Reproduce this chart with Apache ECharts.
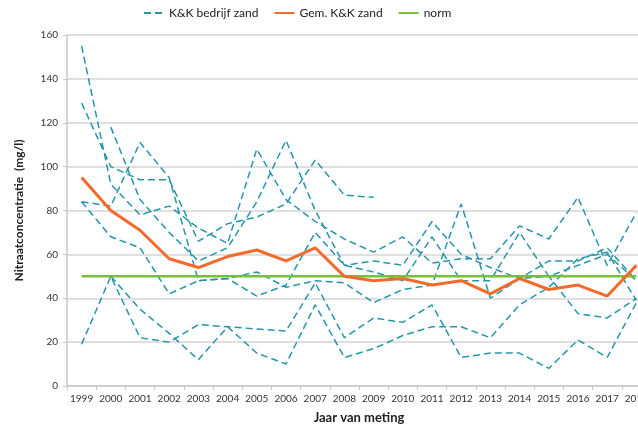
<!DOCTYPE html>
<html>
<head>
    <meta charset="utf-8">
    <title>Nitraat</title>
    <script src="https://cdn.jsdelivr.net/npm/echarts@6/dist/echarts.min.js"></script>
    <style>
        html, body { margin: 0; padding: 0; background: #fff; }
        #main { width: 638px; height: 428px; }
    </style>
</head>
<body>
<div id="main"></div>
<script type="text/javascript">
    var years = ['1999', '2000', '2001', '2002', '2003', '2004', '2005', '2006', '2007', '2008',
        '2009', '2010', '2011', '2012', '2013', '2014', '2015', '2016', '2017', '2018'];

    // losse bedrijven (gestippeld)
    var farmA = [155, 92, 78, 82, 72, 65, 108, 85, 75, 67, 61, 68, 56, 58, 58, 73, 67, 86, 55, 79];
    var farmB = [129, 100, 94, 94, 66, 74, 77, 83, 103, 87, 86, null, null, null, null, null, null, null, null, null];
    var farmC = [null, 118, 85, 70, 57, 63, 84, 112, 80, 55, 57, 55, 75, 60, 54, 49, 57, 57, 63, 48];
    var farmD = [84, 82, 111, 95, 48, 49, 52, 45, 48, 47, 38, 44, 46, 83, 40, 49, 50, 33, 31, 40];
    var farmE = [84, 68, 63, 42, 48, 49, 41, 46, 70, 55, 52, 48, 68, 48, 48, 70, 50, 55, 60, 48];
    var farmF = [19, 50, 22, 20, 28, 27, 26, 25, 47, 22, 31, 29, 37, 13, 15, 15, 8, 21, 13, 38];
    var farmG = [null, 50, 35, 24, 12, 27, 15, 10, 37, 13, 17, 23, 27, 27, 22, 37, 45, 58, 61, 39];

    var gemiddeld = [95, 80, 71, 58, 54, 59, 62, 57, 63, 50, 48, 49, 46, 48, 42, 49, 44, 46, 41, 55];
    var norm = [50, 50, 50, 50, 50, 50, 50, 50, 50, 50, 50, 50, 50, 50, 50, 50, 50, 50, 50, 50];

    var farms = [farmA, farmB, farmC, farmD, farmE, farmF, farmG];
    var teal = '#2596a8';

    var series = farms.map(function (d) {
        return {
            name: 'K&K bedrijf zand',
            type: 'line',
            data: d,
            symbol: 'none',
            connectNulls: false,
            z: 2,
            lineStyle: { color: teal, width: 1.5, type: [7, 4] },
            itemStyle: { color: teal }
        };
    });
    series.push({
        name: 'norm',
        type: 'line',
        data: norm,
        symbol: 'none',
        z: 3,
        lineStyle: { color: '#78bf3c', width: 2.5 },
        itemStyle: { color: '#78bf3c' }
    });
    series.push({
        name: 'Gem. K&K zand',
        type: 'line',
        data: gemiddeld,
        symbol: 'none',
        z: 4,
        lineStyle: { color: '#f26b2a', width: 3 },
        itemStyle: { color: '#f26b2a' }
    });

    var chart = echarts.init(document.getElementById('main'));
    chart.setOption({
        animation: false,
        backgroundColor: '#fff',
        textStyle: { fontFamily: 'Lato' },
        legend: {
            top: 2,
            left: 138,
            itemWidth: 20,
            itemHeight: 10,
            itemGap: 15,
            itemStyle: { opacity: 0 },
            data: ['K&K bedrijf zand', 'Gem. K&K zand', 'norm'],
            textStyle: { color: '#222', fontSize: 12, fontFamily: 'Lato' }
        },
        grid: {
            left: 67, width: 584, top: 35, height: 351,
            containLabel: false,
            outerBoundsMode: 'none'
        },
        xAxis: {
            type: 'category',
            data: years,
            boundaryGap: true,
            name: 'Jaar van meting',
            nameLocation: 'middle',
            nameGap: 25,
            nameTextStyle: { fontSize: 13, fontWeight: 'bold', color: '#222', fontFamily: 'Lato' },
            axisLine: { lineStyle: { color: '#c8c8c8', width: 1.5 } },
            axisTick: { show: true, length: 4, lineStyle: { color: '#c8c8c8' } },
            axisLabel: { color: '#333', fontSize: 10, margin: 8, interval: 0, fontFamily: 'Lato' }
        },
        yAxis: {
            type: 'value',
            min: 0,
            max: 160,
            interval: 20,
            name: 'Nitraatconcentratie  (mg/l)',
            nameLocation: 'middle',
            nameGap: 42,
            nameTextStyle: { fontSize: 12, fontWeight: 'bold', color: '#222', fontFamily: 'Lato' },
            axisLine: { show: true, lineStyle: { color: '#c8c8c8', width: 1.5 } },
            axisTick: { show: true, length: 4, lineStyle: { color: '#c8c8c8' } },
            axisLabel: { color: '#333', fontSize: 10, margin: 9, fontFamily: 'Lato' },
            splitLine: { lineStyle: { color: '#d4d4d4', width: 1.5 } }
        },
        series: series
    });
</script>
</body>
</html>
